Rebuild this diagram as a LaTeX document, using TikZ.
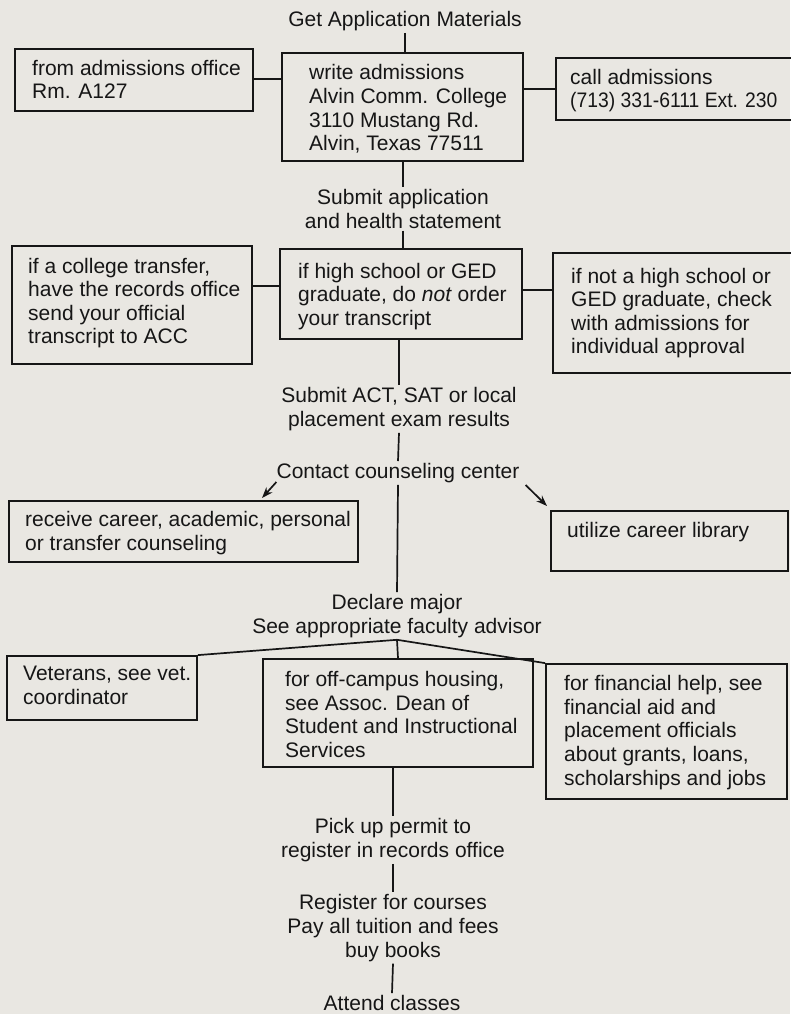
\documentclass[tikz,border=0pt]{standalone}
\usepackage{fontspec}
\setmainfont{Liberation Sans}
\usetikzlibrary{arrows.meta,calc}
\definecolor{paper}{RGB}{233,231,226}
\definecolor{ink}{RGB}{22,22,22}
\begin{document}
\begin{tikzpicture}[x=1pt,y=-1pt,
  every node/.style={font=\fontsize{21}{23.6}\selectfont, text=ink},
  box/.style={draw=ink, line width=1.8pt, inner sep=0pt, rectangle},
  txt/.style={align=left, inner sep=0pt, anchor=west},
  lbl/.style={align=center, inner xsep=0pt, inner ysep=2pt},
  conn/.style={draw=ink, line width=1.7pt},
  arr/.style={conn, -{Stealth[length=11pt,width=8pt]}}]
\fill[paper] (0,0) rectangle (790,1014);
\useasboundingbox (0,0) rectangle (790,1014);

% boxes
\node[box, minimum width=238pt, minimum height=62pt]  (A) at (134,80) {};
\node[box, minimum width=241pt, minimum height=108pt] (B) at (402.5,107) {};
\node[box, minimum width=244pt, minimum height=62pt]  (C) at (678,89) {};
\node[box, minimum width=240pt, minimum height=118pt] (D) at (132,305) {};
\node[box, minimum width=242pt, minimum height=90pt]  (E) at (401,294) {};
\node[box, minimum width=247pt, minimum height=120pt] (F) at (676.5,313) {};
\node[box, minimum width=349pt, minimum height=61pt]  (G) at (183.5,531.5) {};
\node[box, minimum width=237pt, minimum height=60pt]  (H) at (669.5,541) {};
\node[box, minimum width=190pt, minimum height=64pt]  (I) at (102,688) {};
\node[box, minimum width=270pt, minimum height=108pt] (J) at (398,713) {};
\node[box, minimum width=241pt, minimum height=135pt] (K) at (666.5,731.5) {};

% box texts
\node[txt] (At) at (32,79.5) {from admissions office\\Rm. A127};
\node[txt] (Bt) at (309,109) {write admissions\\Alvin Comm. College\\3110 Mustang Rd.\\Alvin, Texas 77511};
\node[txt] (Ct) at (570,90.5) {call admissions\\\scalebox{0.92}[1]{(713) 331-6111 Ext. 230}};
\node[txt] (Dt) at (28,303) {if a college transfer,\\have the records office\\send your official\\transcript to ACC};
\node[txt] (Et) at (298,296.5) {if high school or GED\\graduate, do \textit{not} order\\your transcript};
\node[txt] (Ft) at (571,313) {if not a high school or\\GED graduate, check\\with admissions for\\individual approval};
\node[txt] (Gt) at (25,533) {receive career, academic, personal\\or transfer counseling};
\node[txt] (Ht) at (567,532) {utilize career library};
\node[txt] (It) at (23,685.5) {Veterans, see vet.\\coordinator};
\node[txt] (Jt) at (285,714.5) {for off-campus housing,\\see Assoc. Dean of\\Student and Instructional\\Services};
\node[txt] (Kt) at (564,732.5) {for financial help, see\\financial aid and\\placement officials\\about grants, loans,\\scholarships and jobs};

% free labels
\node[lbl] (T0) at (405,21) {Get Application Materials};
\node[lbl] (T1) at (403,209) {Submit application\\and health statement};
\node[lbl] (T2) at (399,409) {Submit ACT, SAT or local\\placement exam results};
\node[lbl] (T3) at (398,473) {Contact counseling center};
\node[lbl] (T4) at (397,616) {Declare major\\See appropriate faculty advisor};
\node[lbl] (T5) at (393,840) {Pick up permit to\\register in records office};
\node[lbl] (T6) at (393,928) {Register for courses\\Pay all tuition and fees\\buy books};
\node[lbl] (T7) at (392,1003) {Attend classes};

% connectors
\draw[conn] (T0.south) -- (T0.south |- B.north);
\draw[conn] (T1.north |- B.south) -- (T1.north);
\draw[conn] (T1.south) -- (T1.south |- E.north);
\draw[conn] (T2.north |- E.south) -- (T2.north);
\draw[conn] (T2.south) -- (T3.north);
\draw[conn] (T3.south) -- (T4.north);
\coordinate (jn) at (T4.south);
\draw[conn] (jn) -- (J.north);
\draw[conn] (jn) -- (I.north east);
\draw[conn] (jn) -- (K.north west);
\draw[conn] (T5.north |- J.south) -- (T5.north);
\draw[conn] (T5.south) -- (T6.north);
\draw[conn] (T6.south) -- (T7.north);

\draw[conn] ([yshift=1pt]A.east) -- ([yshift=1pt]A.east -| B.west);
\draw[conn] (C.west -| B.east) -- (C.west);
\draw[conn] ([yshift=8pt]E.west -| D.east) -- ([yshift=8pt]E.west);
\draw[conn] ([yshift=4pt]E.east) -- ([yshift=4pt]E.east -| F.west);

\coordinate (aL) at (262,498);
\coordinate (aR) at (547,506);
\draw[arr] ([yshift=3pt]T3.south west) -- (aL);
\draw[arr] ([xshift=6pt]T3.south east) -- (aR);
\end{tikzpicture}
\end{document}
